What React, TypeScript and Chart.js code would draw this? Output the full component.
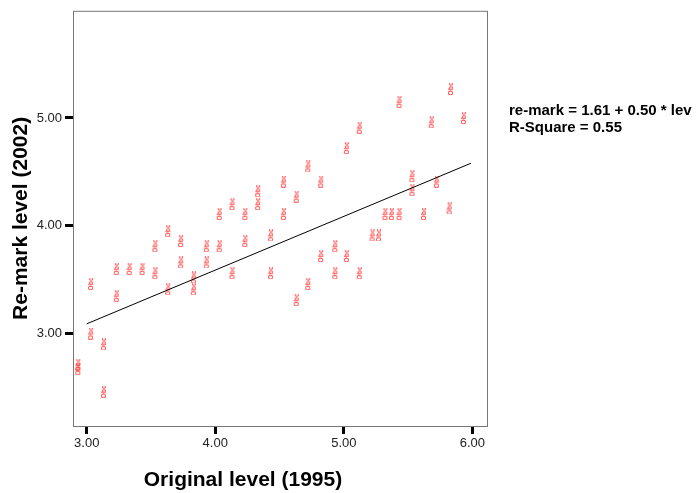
import React, { useEffect, useRef } from "react";
import { Chart, registerables } from "chart.js";

Chart.register(...registerables);

const xValues = [2.93, 2.93, 3.03, 3.03, 3.13, 3.13, 3.23, 3.23, 3.33, 3.43, 3.53, 3.53, 3.63, 3.63, 3.73, 3.73, 3.83, 3.83, 3.93, 3.93, 4.03, 4.03, 4.13, 4.13, 4.23, 4.23, 4.33, 4.33, 4.43, 4.43, 4.53, 4.53, 4.63, 4.63, 4.72, 4.72, 4.82, 4.82, 4.93, 4.93, 5.02, 5.02, 5.12, 5.12, 5.22, 5.27, 5.32, 5.37, 5.43, 5.43, 5.53, 5.53, 5.62, 5.68, 5.72, 5.82, 5.83, 5.93];
const yValues = [2.71, 2.67, 3.00, 3.46, 2.90, 2.46, 3.35, 3.60, 3.60, 3.60, 3.56, 3.81, 3.95, 3.41, 3.86, 3.66, 3.52, 3.41, 3.81, 3.66, 3.81, 4.11, 3.56, 4.20, 4.11, 3.86, 4.20, 4.32, 3.91, 3.56, 4.41, 4.11, 4.27, 3.31, 4.55, 3.46, 4.41, 3.72, 3.81, 3.56, 4.72, 3.72, 4.91, 3.56, 3.91, 3.91, 4.11, 4.11, 4.11, 5.15, 4.46, 4.33, 4.11, 4.96, 4.41, 4.16, 5.27, 5.00];

const fitX = [3.0, 5.99];
const fitY = [3.09, 4.58];

const xTicks = [3, 4, 5, 6];
const yTicks = [3, 4, 5];

const xTitle = "Original level (1995)";
const yTitle = "Re-mark level (2002)";
const equationLines = ["re-mark = 1.61 + 0.50 * lev", "R-Square = 0.55"];

function makeMarker(): HTMLCanvasElement {
  const c = document.createElement("canvas");
  c.width = 9;
  c.height = 12;
  const ctx = c.getContext("2d")!;
  ctx.translate(4.5, 6);
  ctx.rotate(-Math.PI / 2);
  ctx.fillStyle = "rgba(255, 60, 60, 0.95)";
  ctx.font = "bold 7px Arial";
  ctx.textAlign = "center";
  ctx.textBaseline = "middle";
  ctx.fillText("Obc", 0, 0.5);
  return c;
}

const overlay = {
  id: "overlay",
  afterDraw(chart: any) {
    const { ctx, chartArea } = chart;
    ctx.save();
    ctx.strokeStyle = "#777";
    ctx.lineWidth = 1;
    ctx.strokeRect(chartArea.left + 0.5, chartArea.top + 0.5, chartArea.right - chartArea.left - 1, chartArea.bottom - chartArea.top);
    ctx.fillStyle = "#000";
    ctx.font = "bold 21px Arial";
    ctx.textAlign = "center";
    ctx.textBaseline = "middle";
    ctx.fillText(xTitle, 243, 480);
    ctx.font = "bold 15px Arial";
    ctx.textAlign = "left";
    ctx.textBaseline = "alphabetic";
    ctx.fillText(equationLines[0], 509, 115);
    ctx.fillText(equationLines[1], 509, 132);
    ctx.restore();
  },
};

export default function App() {
  const ref = useRef<HTMLCanvasElement>(null);
  useEffect(() => {
    const marker = makeMarker();
    const chart = new Chart(ref.current!, {
      type: "scatter",
      data: {
        datasets: [
          {
            type: "line",
            data: fitX.map((x, i) => ({ x, y: fitY[i] })),
            borderColor: "#000",
            borderWidth: 1,
            pointRadius: 0,
            fill: false,
          } as any,
          {
            data: xValues.map((x, i) => ({ x, y: yValues[i] })),
            pointStyle: marker,
            pointRadius: 5,
          },
        ],
      },
      options: {
        responsive: false,
        animation: false,
        layout: { padding: { left: 0, top: 10, right: 211, bottom: 0 } },
        plugins: { legend: { display: false }, tooltip: { enabled: false } },
        scales: {
          x: {
            type: "linear",
            min: 2.893,
            max: 6.122,
            afterBuildTicks: (axis: any) => {
              axis.ticks = xTicks.map((v) => ({ value: v }));
            },
            afterFit: (axis: any) => {
              axis.height = 67;
            },
            ticks: {
              callback: (v: any) => Number(v).toFixed(2),
              font: { family: "Arial", size: 13 },
              color: "#222",
              padding: 2,
              maxRotation: 0,
            },
            grid: { drawOnChartArea: false, drawTicks: true, tickLength: 8, tickWidth: 3, tickColor: "#000" },
            border: { display: false },
          },
          y: {
            type: "linear",
            min: 2.142,
            max: 5.994,
            afterBuildTicks: (axis: any) => {
              axis.ticks = yTicks.map((v) => ({ value: v }));
            },
            afterFit: (axis: any) => {
              axis.width = 73;
            },
            ticks: {
              callback: (v: any) => Number(v).toFixed(2),
              font: { family: "Arial", size: 13 },
              color: "#222",
              padding: 3,
            },
            grid: { drawOnChartArea: false, drawTicks: true, tickLength: 8, tickWidth: 3, tickColor: "#000" },
            border: { display: false },
            title: {
              display: true,
              text: yTitle,
              font: { family: "Arial", size: 21, weight: "bold" },
              color: "#000",
              padding: { top: 9, bottom: 0 },
            },
          },
        },
      },
      plugins: [overlay],
    });
    return () => chart.destroy();
  }, []);
  return (
    <div style={{ position: "absolute", left: 0, top: 0, width: 699, height: 493, background: "#fff" }}>
      <canvas ref={ref} width={699} height={493} />
    </div>
  );
}
